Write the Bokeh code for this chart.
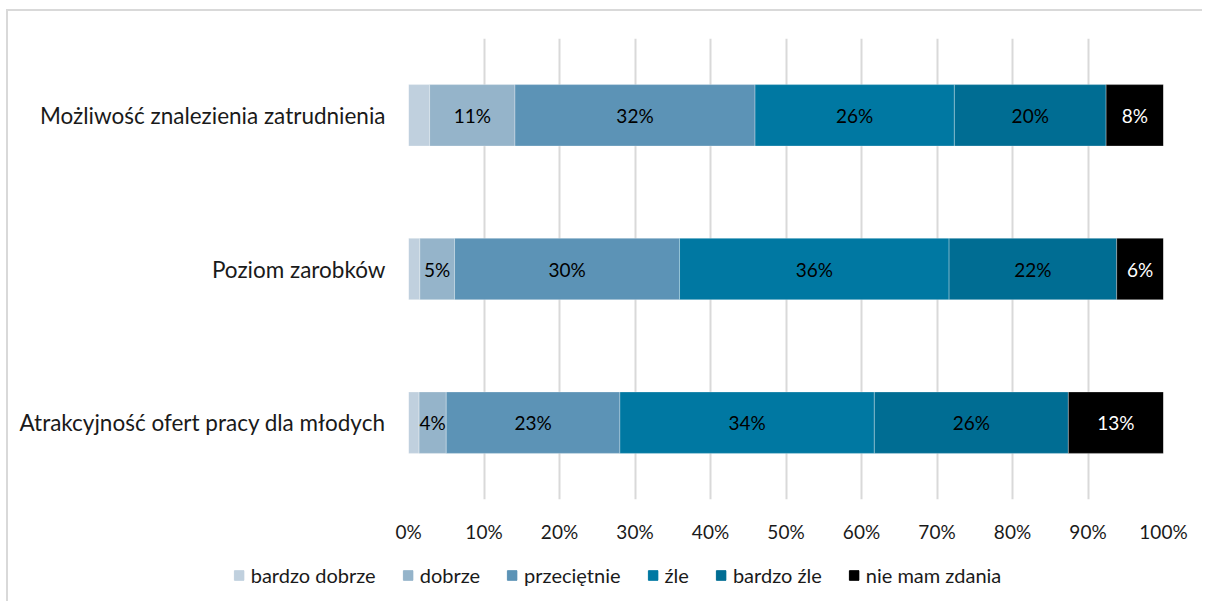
from bokeh.plotting import figure
from bokeh.models import ColumnDataSource, FactorRange, Legend, LegendItem, FixedTicker
from bokeh.embed import file_html
from bokeh.resources import INLINE
from bokeh.core.properties import value

# ---- data -------------------------------------------------------------
categories = [
    "Możliwość znalezienia zatrudnienia",
    "Poziom zarobków",
    "Atrakcyjność ofert pracy dla młodych",
]
series = ["bardzo dobrze", "dobrze", "przeciętnie", "źle", "bardzo źle", "nie mam zdania"]
bardzo_dobrze = [2.8, 1.5, 1.4]
dobrze = [11.3, 4.6, 3.6]
przecietnie = [31.8, 29.8, 23.0]
zle = [26.4, 35.7, 33.7]
bardzo_zle = [20.1, 22.2, 25.7]
nie_mam_zdania = [7.6, 6.2, 12.6]
tick_values = [0, 10, 20, 30, 40, 50, 60, 70, 80, 90, 100]
tick_labels = ["0%", "10%", "20%", "30%", "40%", "50%", "60%", "70%", "80%", "90%", "100%"]

colors = ["#c0d0de", "#95b4ca", "#5c93b6", "#0078a2", "#006d93", "#000000"]
label_colors = ["#000000", "#000000", "#000000", "#000000", "#000000", "#ffffff"]
FONT = "Lato"
TXT = "#1a1a1a"
FRAME_GRAY = "#d9d9d9"

values = [bardzo_dobrze, dobrze, przecietnie, zle, bardzo_zle, nie_mam_zdania]
keys = ["s%d" % i for i in range(len(series))]
data = {"cat": categories}
for k, v in zip(keys, values):
    data[k] = v
src = ColumnDataSource(data)

y_factors = list(reversed(categories))

p = figure(
    width=1196, height=534,
    y_range=FactorRange(factors=y_factors),
    x_range=(0, 100),
    output_backend="svg", toolbar_location=None,
    min_border_left=400, min_border_right=41,
    min_border_top=27, min_border_bottom=46,
)
p.styles = {"margin-top": "9px", "margin-left": "6px",
            "border-top": "2px solid " + FRAME_GRAY, "border-left": "2px solid " + FRAME_GRAY}
p.outline_line_color = None
p.border_fill_color = "white"

renderers = p.hbar_stack(keys, y="cat", height=0.4, color=colors, source=src,
                         line_color="white", line_width=0.6, line_alpha=0.5)

# labels inside segments
lx, ly, lt, lc = [], [], [], []
for r, cat in enumerate(categories):
    left = 0.0
    for i, v in enumerate(values):
        val = v[r]
        if i > 0:
            lx.append(left + val / 2)
            ly.append(cat)
            lt.append("%d%%" % round(val))
            lc.append(label_colors[i])
        left += val
lsrc = ColumnDataSource(dict(x=lx, y=ly, text=lt, color=lc))
p.text(x="x", y="y", text="text", text_color="color", source=lsrc,
       text_align="center", text_baseline="middle",
       text_font=value(FONT), text_font_size="19px")

# axes
p.xaxis.ticker = FixedTicker(ticks=tick_values)
p.xaxis.major_label_overrides = {t: l for t, l in zip(tick_values, tick_labels)}
p.xaxis.axis_line_color = None
p.xaxis.major_tick_line_color = None
p.xaxis.minor_tick_line_color = None
p.xaxis.major_label_text_font = FONT
p.xaxis.major_label_text_font_size = "19px"
p.xaxis.major_label_text_color = TXT
p.xaxis.major_label_standoff = 14

p.yaxis.axis_line_color = None
p.yaxis.major_tick_line_color = None
p.yaxis.minor_tick_line_color = None
p.yaxis.major_label_text_font = FONT
p.yaxis.major_label_text_font_size = "22.5px"
p.yaxis.major_label_text_color = TXT
p.yaxis.major_label_standoff = 17

p.xgrid.grid_line_color = FRAME_GRAY
p.xgrid.grid_line_width = 2
p.ygrid.grid_line_color = None

# legend in its own strip below the chart (separate root, so no frame alignment)
pl = figure(
    width=1196, height=58, x_range=(0, 1), y_range=(0, 1),
    output_backend="svg", toolbar_location=None,
    min_border_left=22, min_border_right=0, min_border_top=10, min_border_bottom=4,
)
pl.styles = {"margin-left": "6px", "border-left": "2px solid " + FRAME_GRAY}
pl.axis.visible = False
pl.grid.visible = False
pl.outline_line_color = None
pl.border_fill_color = "white"
# legend swatches (one hidden point each, outside the visible range)
legend_src = ColumnDataSource(dict(x=[-5], y=[-5]))
items = []
for s, c in zip(series, colors):
    rr = pl.rect(x="x", y="y", width=0.1, height=0.1, color=c, source=legend_src)
    items.append(LegendItem(label=s, renderers=[rr]))
legend = Legend(
    items=items, orientation="horizontal", location="center",
    label_text_font=FONT, label_text_font_size="20px", label_text_color=TXT,
    glyph_width=12, glyph_height=12, spacing=26, label_standoff=6,
    border_line_color=None, background_fill_alpha=0, padding=0, margin=0,
)
pl.add_layout(legend, "center")

open("out.html", "w").write(file_html([p, pl], INLINE))
